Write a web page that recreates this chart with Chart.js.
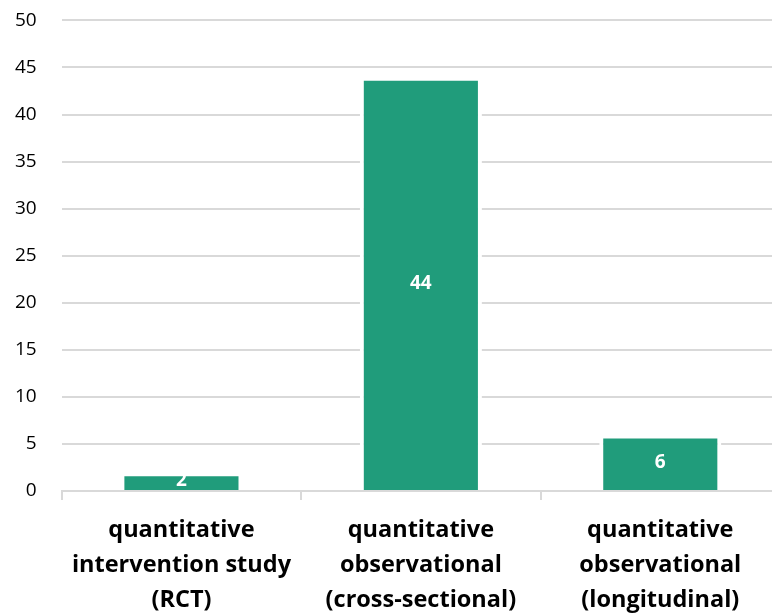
<!DOCTYPE html>
<html>
<head>
<meta charset="utf-8">
<script src="https://cdn.jsdelivr.net/npm/chart.js@4/dist/chart.umd.min.js"></script>
<style>
  html, body { margin: 0; padding: 0; background: #fff; overflow: hidden; }
  canvas { display: block; margin-top: -16px; margin-left: -5px; }
</style>
</head>
<body>
<canvas id="myChart" width="785" height="632"></canvas>
<script>
// data
const categories = [
  ['quantitative', 'intervention study', '(RCT)'],
  ['quantitative', 'observational', '(cross-sectional)'],
  ['quantitative', 'observational', '(longitudinal)']
];
const counts = [2, 44, 6];
const yTicks = [0, 5, 10, 15, 20, 25, 30, 35, 40, 45, 50];

const barColor = '#209c7b';
const gridColor = '#d9d9d9';

// white value label in the middle of each bar
const valueLabels = {
  id: 'valueLabels',
  afterDatasetsDraw(chart) {
    const ctx = chart.ctx;
    const meta = chart.getDatasetMeta(0);
    ctx.save();
    ctx.fillStyle = '#ffffff';
    ctx.font = 'bold 19px "Open Sans"';
    ctx.textAlign = 'center';
    ctx.textBaseline = 'middle';
    meta.data.forEach((bar, i) => {
      const mid = (bar.y + bar.base) / 2;
      ctx.fillText(String(counts[i]), bar.x, mid);
    });
    ctx.restore();
  }
};

var chartArea = document.getElementById('myChart').getContext('2d');

var myChart = new Chart(chartArea, {
  type: 'bar',
  data: {
    labels: categories,
    datasets: [{
      data: counts,
      backgroundColor: barColor,
      borderColor: '#ffffff',
      borderWidth: 4,
      borderSkipped: 'start',
      barPercentage: 0.51,
      categoryPercentage: 1
    }]
  },
  options: {
    responsive: false,
    animation: false,
    layout: { padding: { top: -3, left: -5, right: 0, bottom: -15 } },
    plugins: {
      legend: { display: false },
      tooltip: { enabled: false }
    },
    scales: {
      x: {
        grid: {
          display: true,
          drawOnChartArea: false,
          drawTicks: true,
          tickLength: 9,
          color: gridColor,
          lineWidth: 2,
          offset: true
        },
        border: { display: true, color: gridColor, width: 2 },
        ticks: {
          color: '#000',
          font: { family: 'Open Sans', size: 23.5, weight: 'bold', lineHeight: 1.49 },
          padding: 13,
          maxRotation: 0,
          autoSkip: false
        }
      },
      y: {
        min: 0,
        max: 50,
        afterBuildTicks(axis) {
          axis.ticks = yTicks.map(v => ({ value: v }));
        },
        grid: { color: gridColor, lineWidth: 2, drawTicks: false },
        border: { display: false },
        ticks: {
          color: '#000',
          font: { family: 'Open Sans', size: 19 },
          padding: 25
        }
      }
    }
  },
  plugins: [valueLabels]
});
</script>
</body>
</html>
